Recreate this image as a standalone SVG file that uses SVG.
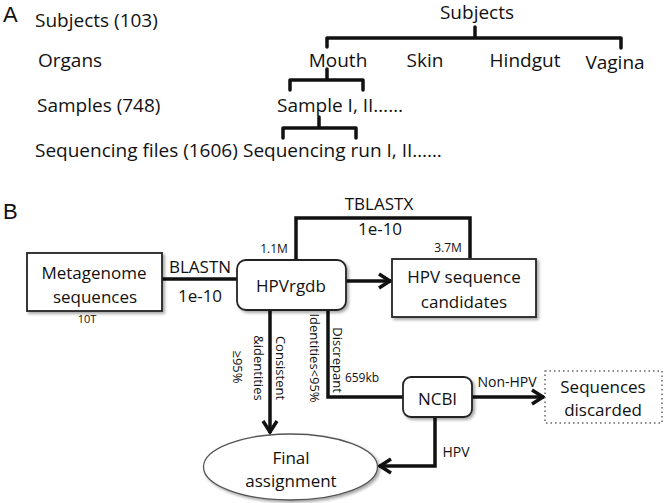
<svg xmlns="http://www.w3.org/2000/svg" width="666" height="503" viewBox="0 0 666 503">
<defs>
<style>
text{font-family:"Open Sans","Liberation Sans",sans-serif;fill:#111}
.a{font-size:19px}
.b{font-size:17px}
.s{font-size:12px}
.r{font-size:13px}
.m{font-size:14px}
.lbl{font-family:"Liberation Sans",Arial,sans-serif;font-size:22px}
.br{fill:none;stroke:#111;stroke-width:3.5;stroke-linejoin:round;stroke-linecap:round}
.ln{fill:none;stroke:#111;stroke-width:3.5;stroke-linejoin:miter}
.bx{fill:#fff;stroke:#222;stroke-width:1.8}
</style>
<filter id="sh" x="-10%" y="-10%" width="130%" height="140%">
<feDropShadow dx="2" dy="2" stdDeviation="1.5" flood-color="#000" flood-opacity="0.35"/>
</filter>
<marker id="ah" markerUnits="userSpaceOnUse" markerWidth="20" markerHeight="20" viewBox="0 0 20 20" refX="16" refY="10" orient="auto">
<path d="M4,3 L15,10 L4,17" fill="none" stroke="#111" stroke-width="3.5"/>
</marker>
</defs>
<rect width="666" height="503" fill="#fff"/>

<!-- Panel A -->
<g id="panelA">
<text class="lbl" x="3" y="22">A</text>
<text class="a" x="35" y="27">Subjects (103)</text>
<text class="a" x="38" y="67">Organs</text>
<text class="a" x="37" y="112">Samples (748)</text>
<text class="a" x="35" y="157">Sequencing files (1606)</text>
<g id="tree">
<text class="a" x="477" y="19" text-anchor="middle">Subjects</text>
<text class="a" x="338" y="67" text-anchor="middle">Mouth</text>
<text class="a" x="425" y="67" text-anchor="middle">Skin</text>
<text class="a" x="525" y="67" text-anchor="middle">Hindgut</text>
<text class="a" x="615" y="69" text-anchor="middle">Vagina</text>
<text class="a" x="277" y="112">Sample I, II……</text>
<text class="a" x="243" y="157">Sequencing run I, II……</text>
<path class="br" d="M327,47 V38 H621 V48 M475,38 V27"/>
<path class="br" d="M290,90 V80 H363 V90 M327,80 V69"/>
<path class="br" d="M283,138 V128 H356 V138 M319,128 V117"/>
</g>
</g>

<!-- Panel B -->
<text class="lbl" x="3" y="219">B</text>

<g id="connectors">
<path class="ln" d="M162,279 H237"/>
<path class="ln" d="M296,260 V218 H470 V258"/>
<path class="ln" d="M346,281 H391" marker-end="url(#ah)"/>
<path class="ln" d="M270,310 V433" marker-end="url(#ah)"/>
<path class="ln" d="M328,310 V397 H403"/>
<path class="ln" d="M472,397 H544" marker-end="url(#ah)"/>
<path class="ln" d="M435,417 V466 H379" marker-end="url(#ah)"/>
<text class="b" x="200" y="273" text-anchor="middle">BLASTN</text>
<text class="b" x="200" y="302" text-anchor="middle">1e-10</text>
<text class="b" x="379" y="210" text-anchor="middle">TBLASTX</text>
<text class="b" x="380" y="235" text-anchor="middle">1e-10</text>
<text class="s" x="274" y="253" text-anchor="middle">1.1M</text>
<text class="s" x="448" y="252" text-anchor="middle">3.7M</text>
<text class="s" x="362" y="382" text-anchor="middle">659kb</text>
<text class="m" x="507" y="387" text-anchor="middle">Non-HPV</text>
<text class="m" x="456" y="457" text-anchor="middle">HPV</text>
<text class="r" transform="translate(276,368) rotate(90)" text-anchor="middle">Consistent</text>
<text class="r" transform="translate(254,368) rotate(90)" text-anchor="middle">&amp;identities</text>
<text class="r" transform="translate(233,367) rotate(90)" text-anchor="middle">≥95%</text>
<text class="r" transform="translate(333,360) rotate(90)" text-anchor="middle">Discrepant</text>
<text class="r" transform="translate(310,358) rotate(90)" text-anchor="middle">Identities&lt;95%</text>
</g>

<g id="metagenome">
<rect class="bx" x="27" y="253" width="135" height="58" filter="url(#sh)"/>
<text class="b" x="94" y="279" text-anchor="middle">Metagenome</text>
<text class="b" x="95" y="303" text-anchor="middle">sequences</text>
<text font-size="11" x="87" y="323" text-anchor="middle">10T</text>
</g>

<g id="hpvrgdb">
<rect class="bx" x="237" y="260" width="109" height="50" rx="9" filter="url(#sh)"/>
<text class="b" x="291" y="292" text-anchor="middle">HPVrgdb</text>
</g>

<g id="candidates">
<rect class="bx" x="392" y="259" width="144" height="58" filter="url(#sh)"/>
<text class="b" x="464" y="283" text-anchor="middle">HPV sequence</text>
<text class="b" x="464" y="308" text-anchor="middle">candidates</text>
</g>

<g id="ncbi">
<rect class="bx" x="403" y="377" width="69" height="40" rx="8" filter="url(#sh)"/>
<text class="b" x="437.5" y="405" text-anchor="middle">NCBI</text>
</g>

<g id="discarded">
<rect x="545" y="371" width="117" height="52" fill="#fff" stroke="#666" stroke-width="1.5" stroke-dasharray="1.5 3"/>
<text class="b" x="603" y="393" text-anchor="middle">Sequences</text>
<text class="b" x="603" y="416" text-anchor="middle">discarded</text>
</g>

<g id="final">
<ellipse cx="290.5" cy="467" rx="87" ry="33" fill="#fff" stroke="#555" stroke-width="1.3" filter="url(#sh)"/>
<text class="b" x="291" y="464" text-anchor="middle">Final</text>
<text class="b" x="291" y="487" text-anchor="middle">assignment</text>
</g>
</svg>
